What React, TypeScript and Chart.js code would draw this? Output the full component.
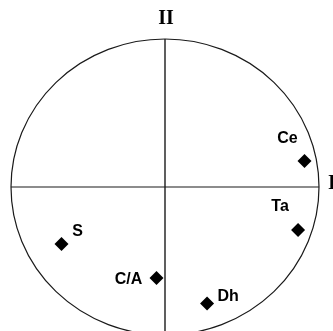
import React, { useEffect, useRef } from "react";
import { Chart, registerables } from "chart.js";

Chart.register(...registerables);

const labels = ["Ce", "Ta", "S", "C/A", "Dh"];
const xValues = [0.906, 0.864, -0.672, -0.055, 0.273];
const yValues = [0.176, -0.291, -0.385, -0.615, -0.787];
const axisLabels = ["I", "II"];

// label placement (text centre offset from the marker, px)
const labelOffsets: Record<string, [number, number]> = {
  Ce: [-17, -22],
  Ta: [-18, -23],
  S: [16, -12],
  "C/A": [-28, 2],
  Dh: [21, -7],
};

const framePlugin = {
  id: "frame",
  beforeDatasetsDraw(chart: any) {
    const { ctx, scales } = chart;
    const xs = scales.x;
    const ys = scales.y;
    const cx = xs.getPixelForValue(0);
    const cy = ys.getPixelForValue(0);
    const rx = xs.getPixelForValue(1) - cx;
    const ry = cy - ys.getPixelForValue(1);
    ctx.save();
    ctx.strokeStyle = "#1a1a1a";
    ctx.lineWidth = 1.2;
    ctx.beginPath();
    ctx.ellipse(cx, cy, rx, ry, 0, 0, Math.PI * 2);
    ctx.stroke();
    ctx.beginPath();
    ctx.moveTo(xs.getPixelForValue(-1), cy);
    ctx.lineTo(xs.getPixelForValue(1), cy);
    ctx.stroke();
    ctx.lineWidth = 1.4;
    ctx.beginPath();
    ctx.moveTo(cx, ys.getPixelForValue(1));
    ctx.lineTo(cx, ys.getPixelForValue(-1));
    ctx.stroke();
    ctx.restore();
  },
  afterDatasetsDraw(chart: any) {
    const { ctx, scales } = chart;
    const xs = scales.x;
    const ys = scales.y;
    const meta = chart.getDatasetMeta(0);
    ctx.save();
    ctx.fillStyle = "#000";
    ctx.textAlign = "center";
    ctx.textBaseline = "middle";
    ctx.font = "bold 16px 'Liberation Sans', Arial, sans-serif";
    meta.data.forEach((el: any, i: number) => {
      const off = labelOffsets[labels[i]] || [0, 0];
      ctx.fillText(labels[i], el.x + off[0], el.y + off[1]);
    });
    ctx.font = "bold 20px 'Liberation Serif', serif";
    ctx.fillText(axisLabels[1], xs.getPixelForValue(0) + 1, 19);
    ctx.fillText(axisLabels[0], xs.getPixelForValue(1) + 13, ys.getPixelForValue(0) - 3);
    ctx.restore();
  },
};

export default function App() {
  const ref = useRef<HTMLCanvasElement | null>(null);
  useEffect(() => {
    if (!ref.current) return;
    const chart = new Chart(ref.current, {
      type: "scatter",
      data: {
        labels,
        datasets: [
          {
            data: xValues.map((x, i) => ({ x, y: yValues[i] })),
            pointStyle: "rectRot",
            pointRadius: 7,
            pointBackgroundColor: "#000",
            pointBorderColor: "#000",
            pointBorderWidth: 0,
          },
        ],
      },
      options: {
        animation: false,
        responsive: false,
        maintainAspectRatio: false,
        layout: { autoPadding: false, padding: { left: 11, right: 14, top: 39, bottom: 0 } },
        plugins: { legend: { display: false }, tooltip: { enabled: false } },
        scales: {
          x: { type: "linear", min: -1, max: 1, display: false },
          y: { type: "linear", min: -0.973, max: 1, display: false },
        },
      },
      plugins: [framePlugin],
    });
    return () => chart.destroy();
  }, []);
  return (
    <div style={{ position: "absolute", left: 0, top: 0, width: 333, height: 331, background: "#fff" }}>
      <canvas ref={ref} width={333} height={331} style={{ display: "block" }} />
    </div>
  );
}
